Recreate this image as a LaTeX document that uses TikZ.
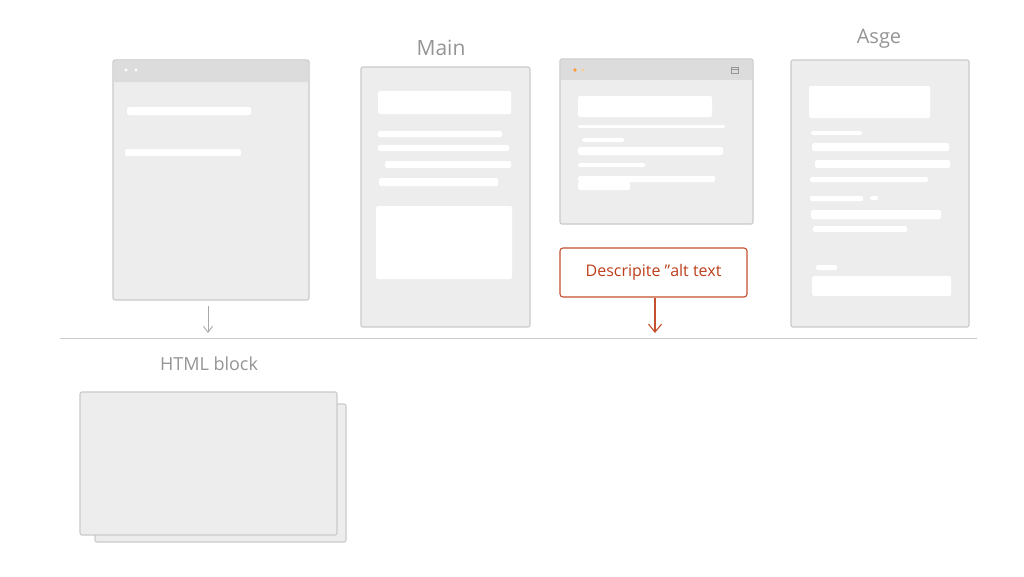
\documentclass[tikz,border=0pt]{standalone}
\usepackage{fontspec}
\setmainfont{Open Sans}
\usetikzlibrary{arrows.meta}
\definecolor{pfill}{HTML}{EDEDED}
\definecolor{pdraw}{HTML}{CACACA}
\definecolor{hbar}{HTML}{DCDCDC}
\definecolor{lbl}{HTML}{959595}
\definecolor{acc}{HTML}{C4502F}
\definecolor{acctext}{HTML}{BE3F1C}
\tikzset{
  panel/.style={draw=pdraw, fill=pfill, line width=1.1pt, rounded corners=2pt, inner sep=0pt},
  bar/.style={fill=white, rounded corners=1.5pt, draw=none},
  hdr/.style={fill=hbar, draw=none},
  lab/.style={text=lbl, font=\fontsize{18}{20}\selectfont},
  callout/.style={draw=acc, fill=white, line width=1.1pt, rounded corners=3pt, text=acctext, font=\fontsize{16}{18}\selectfont, inner sep=0pt},
  garrow/.style={draw=lbl!80, line width=0.9pt, -{Straight Barb[length=6pt,width=9pt]}},
  oarrow/.style={draw=acc, line width=1.1pt, -{Straight Barb[length=8pt,width=13pt]}},
}
\begin{document}
\begin{tikzpicture}[x=1pt,y=-1pt]
\useasboundingbox (0,0) rectangle (1024,576);
\fill[white] (0,0) rectangle (1024,576);

% ---------- panel 1 ----------
\node[panel, minimum width=196pt, minimum height=240pt] (p1) at (211,180) {};
\fill[hdr, rounded corners=2pt] (113.6,60.6) -- (308.4,60.6) -- (308.4,82) -- (113.6,82) -- cycle;
\fill[white] (126,70) circle (1.6) (136,70) circle (1.6);
\fill[bar] (127,107) rectangle (251,115);
\fill[bar] (125,149) rectangle (241,156);

\coordinate (a1) at (208,333);
\draw[garrow] (208,306) -- (a1);

% ---------- panel 2 ----------
\node[lab, font=\fontsize{21}{23}\selectfont] (tmain) at (441,48) {Main};
\node[panel, minimum width=169pt, minimum height=260pt] (p2) at (445.5,197) {};
\fill[bar] (378,91) rectangle (511,114);
\fill[bar] (378,131) rectangle (502,137);
\fill[bar] (378,145) rectangle (509,151);
\fill[bar] (385,161) rectangle (511,168);
\fill[bar] (379,178) rectangle (498,186);
\fill[bar] (376,206) rectangle (512,279);

% ---------- panel 3 ----------
\node[panel, minimum width=193pt, minimum height=165pt] (p3) at (656.5,141.5) {};
\fill[hdr] (560.6,59.6) rectangle (752.4,80);
\fill[orange!80] (575,70) circle (1.8);
\fill[orange!40] (583,70) circle (1.6);
\draw[lbl, line width=0.7pt] (731,67) rectangle (738,73) (731,69.5) -- (738,69.5);
\fill[bar] (578,96) rectangle (712,117);
\fill[bar] (578,125) rectangle (725,128);
\fill[bar] (582,138) rectangle (624,142);
\fill[bar] (578,147) rectangle (723,155);
\fill[bar] (578,163) rectangle (645,167);
\fill[bar] (578,176) rectangle (715,182);
\fill[bar] (578,182) rectangle (630,190);

% ---------- callout ----------
\node[callout, minimum width=187pt, minimum height=49pt] (c1) at (653.5,272.5) {Descripite \symbol{34}alt text};
\coordinate (a2) at (655,333);
\draw[oarrow] (c1.south -| a2) -- (a2);

% ---------- panel 4 ----------
\node[lab, font=\fontsize{20}{22}\selectfont] (tasge) at (879,39) {Asge};
\node[panel, minimum width=178pt, minimum height=267pt] (p4) at (880,193.5) {};
\fill[bar] (809,86) rectangle (930,118);
\fill[bar] (811,131) rectangle (862,135);
\fill[bar] (812,143) rectangle (949,151);
\fill[bar] (815,160) rectangle (950,168);
\fill[bar] (810,177) rectangle (928,182);
\fill[bar] (810,196) rectangle (863,201);
\fill[bar] (870,196) rectangle (878,200);
\fill[bar] (811,210) rectangle (941,219);
\fill[bar] (813,226) rectangle (907,232);
\fill[bar] (816,265) rectangle (837,270);
\fill[bar] (812,276) rectangle (951,296);

% ---------- divider ----------
\coordinate (d1) at (60,338);
\coordinate (d2) at (977,338);
\draw[pdraw, line width=0.9pt] (d1) -- (d2);

% ---------- HTML block ----------
\node[lab] (thtml) at (209,364) {HTML block};
\node[panel, minimum width=251pt, minimum height=138pt] (hb2) at (220.5,473) {};
\node[panel, minimum width=257pt, minimum height=143pt] (hb1) at (208.5,463.5) {};
\end{tikzpicture}
\end{document}
